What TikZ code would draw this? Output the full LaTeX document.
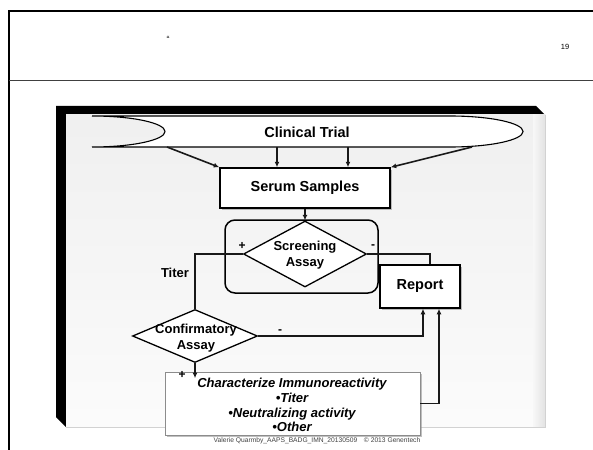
\documentclass[tikz,border=0pt]{standalone}
\usepackage{fontspec}
\setmainfont{Liberation Sans}
\usetikzlibrary{shapes.geometric,arrows.meta,shadows,calc}
\begin{document}
\begin{tikzpicture}[x=1pt,y=-1pt,
  shad/.style={drop shadow={shadow xshift=2pt,shadow yshift=-2pt,fill=black!45,opacity=0.55}},
  box/.style={draw=black,line width=1.5pt,fill=white,inner sep=0pt,shad,
    font=\fontsize{14.5}{16}\selectfont\bfseries},
  softbox/.style={draw=black!45,line width=0.8pt,fill=white,inner sep=0pt,shad},
  dia/.style={diamond,draw=black,line width=1.3pt,fill=white,inner sep=0pt},
  diatext/.style={align=center,inner sep=0pt,font=\fontsize{13}{16}\selectfont\bfseries},
  conn/.style={line width=1.6pt,draw=black!90},
  arr/.style={conn,-{Latex[length=5.5pt,width=5pt]}},
  lbl/.style={inner sep=0pt,font=\fontsize{13}{15}\selectfont\bfseries},
  pm/.style={inner sep=0pt,font=\fontsize{12}{13}\selectfont\bfseries},
]
\useasboundingbox (0,0) rectangle (593,449);
% slide frame
\draw[line width=2.5pt,line cap=rect] (9,449) -- (9,11) -- (593,11);
\draw[line width=1pt,black!75] (9,81) -- (593,81);
\node[inner sep=0pt,font=\fontsize{9}{10}\selectfont] (q) at (168,39) {“};
\node[inner sep=0pt,font=\fontsize{7.5}{8}\selectfont] (pg) at (565,47) {19};
% panel
\fill[black] (56,106) -- (536,106) -- (545,115) -- (66,115) -- (66,427) -- (56,417) -- cycle;
\shade[top color=gray!12,bottom color=gray!3] (66,115) rectangle (545,427);
\shade[left color=gray!6,right color=gray!22] (533,115) rectangle (545,427);
\draw[gray!35,line width=0.8pt] (66,427) -- (545,427) -- (545,115);
% clinical trial banner
\draw[fill=white,line width=1.1pt] (92,116) -- (450,116)
  arc[start angle=-90,end angle=90,x radius=73,y radius=15.5] -- (92,147)
  arc[start angle=90,end angle=-90,x radius=73,y radius=15.5] -- cycle;
\node[inner sep=0pt,font=\fontsize{14.5}{16}\selectfont\bfseries] (ct) at (307,132) {Clinical Trial};
\coordinate (c1) at (167,147);
\coordinate (c2) at (277,147);
\coordinate (c3) at (348,147);
\coordinate (c4) at (472,147);
% serum samples
\node[box,minimum width=170pt,minimum height=40pt] (ss) at (305,188) {Serum Samples};
\draw[arr] (c1) -- (ss.north west);
\draw[arr] (c2) -- (c2 |- ss.north);
\draw[arr] (c3) -- (c3 |- ss.north);
\draw[arr] (c4) -- (ss.north east);
% screening
\node[draw,line width=1.5pt,rounded corners=10pt,minimum width=153pt,minimum height=73pt] (rr) at (301.5,256.5) {};
\node[dia,minimum width=123pt,minimum height=66pt] (sa) at (305,254) {};
\node[diatext] (sat) at (305,255) {Screening\\Assay};
\draw[arr] (ss.south) -- (sa.north);
\node[pm] (p1) at (242,246) {+};
\node[pm] (m1) at (373,247) {-};
% report
\node[box,minimum width=80pt,minimum height=43pt] (rep) at (420,286.5) {Report};
\draw[conn] (sa.east) -| ([xshift=10pt]rep.north);
% confirmatory
\node[dia,minimum width=125pt,minimum height=53pt] (ca) at (195,336) {};
\node[diatext] (cat) at (196,338) {Confirmatory\\Assay};
\draw[conn] (sa.west) -- (ca.north |- sa.west) -- (ca.north);
\node[lbl] (tit) at (175,273) {Titer};
\draw[arr] (ca.east) -| ([xshift=3pt]rep.south);
\node[pm] (m2) at (280,332) {-};
% characterize
\node[softbox,minimum width=255pt,minimum height=63pt] (ch) at (292.5,403.5) {};
\node[align=center,inner sep=0pt,font=\fontsize{13}{14.7}\selectfont\bfseries\itshape] (cht) at (292,405)
  {Characterize Immunoreactivity\\•Titer\\•Neutralizing activity\\•Other};
\draw[arr] (ca.south) -- ([yshift=-15pt]ca.south);
\node[pm] (p2) at (182,375) {+};
\draw[arr] (ch.east) -| ([xshift=19pt]rep.south);
% footer
\node[inner sep=0pt,text=black!75,font=\fontsize{6.7}{7}\selectfont] (ft) at (317,441)
  {Valerie Quarmby\_AAPS\_BADG\_IMN\_20130509\quad © 2013 Genentech};
\end{tikzpicture}
\end{document}
